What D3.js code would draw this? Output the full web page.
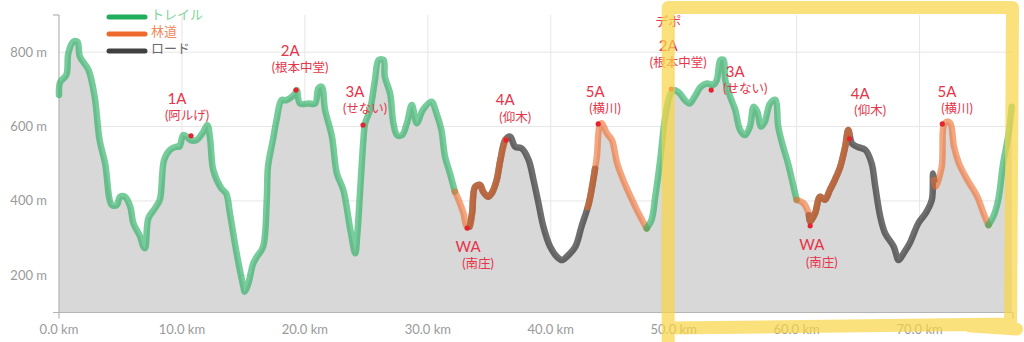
<!DOCTYPE html>
<html><head><meta charset="utf-8">
<script src="https://cdn.jsdelivr.net/npm/d3@7"></script>
<style>
html,body{margin:0;padding:0;background:#fff;}
svg{display:block;}
</style></head>
<body>
<svg id="chart" width="1024" height="342"></svg>
<script>
// ---- data ----
const distKm = [0,0.1,0.6,0.76,1.16,1.5,1.7,2.4,2.9,3.3,3.75,4.3,4.7,4.96,5.37,5.8,6.05,6.6,6.86,7.0,7.27,7.8,8.2,8.55,9.03,9.57,9.8,10.1,10.4,10.66,11.2,11.74,12.07,12.3,12.55,13.2,13.6,13.9,14.45,15.0,15.1,15.4,15.8,16.1,16.6,16.9,17.0,17.4,17.7,18.1,18.5,19.2,19.34,19.6,20.3,20.83,21.1,21.37,21.64,22.2,22.6,23.13,23.7,24.1,24.27,24.76,24.9,25.3,25.7,26.0,26.4,26.5,26.93,27.2,27.5,27.9,28.3,28.7,29.1,29.6,30.3,30.7,31.1,31.4,31.8,32.2,32.5,32.9,33.17,33.4,33.6,33.85,34.25,34.5,34.9,35.2,35.6,35.9,36.3,36.7,37.1,37.65,38.2,38.6,39.0,39.4,39.95,40.5,40.9,41.3,42.0,42.5,43.1,43.5,43.75,43.96,44.15,44.56,44.97,45.4,45.9,46.5,47.0,47.8,48.2,48.5,48.9,49.2,49.45,49.7,50.0,50.5,50.9,51.3,51.7,52.2,52.7,53.2,53.5,53.8,54.05,54.2,54.6,55.0,55.4,55.8,56.2,56.5,56.8,57.1,57.4,57.8,58.1,58.3,58.5,58.9,59.3,59.75,60.0,60.56,60.97,61.1,61.5,61.9,62.3,62.7,63.1,63.55,63.95,64.2,64.5,64.9,65.6,66.1,66.4,66.8,67.2,67.9,68.3,68.7,69.2,69.9,70.5,71.0,71.1,71.3,71.8,71.95,72.2,72.5,72.8,73.2,73.9,74.7,75.2,75.6,76.0,76.4,76.8,77.25,77.5];
const elevM = [685,720,739,797,828,828,788,752,680,564,501,389,389,411,411,384,340,304,277,273,353,380,403,510,537,546,546,577,573,564,564,586,604,564,483,434,420,367,259,169,156,178,232,250,277,403,492,564,618,671,671,689,698,662,662,662,703,707,645,573,474,429,322,259,313,564,609,645,725,779,779,734,689,609,577,577,609,658,609,645,667,636,591,519,474,425,403,367,331,331,367,438,443,425,411,421,456,510,564,573,546,541,510,456,394,331,277,250,241,250,277,331,394,465,519,600,609,582,564,501,456,411,376,326,349,411,510,600,653,685,698,689,671,662,680,707,716,712,725,779,779,725,680,645,591,577,600,653,640,600,612,660,671,671,600,546,501,438,403,394,367,344,367,411,403,429,456,492,546,591,555,546,537,501,438,358,313,277,241,259,286,340,367,403,474,438,492,600,613,609,546,501,456,411,367,335,358,403,501,582,653];

// surface segments (km range + type)
const segStart = [33.4, 61.0, 0, 32.2, 43.0, 47.8, 60.0, 71.2, 75.6];
const segEnd   = [43.6, 71.2, 32.2, 36.3, 47.8, 60.0, 64.3, 75.6, 77.5];
const segType  = ["road","road","trail","forest","forest","trail","forest","forest","trail"];

const legendTypes = ["trail","forest","road"];
const legendLabels = ["トレイル","林道","ロード"];

const xTicks = [0,10,20,30,40,50,60,70];
const yTicks = [200,400,600,800];

// aid stations
const aidKm   = [10.74,19.28,24.73,33.2,36.37,43.86,49.8,53.05,61.1,64.3,71.85];
const aidM    = [575,698,604,327,564,607,701,698,333,567,607];
const aidName = ["1A","2A","3A","WA","4A","5A","2A","3A","WA","4A","5A"];
const aidSub  = ["(阿ルげ)","(根本中堂)","(せない)","(南庄)","(仰木)","(横川)","(根本中堂)","(せない)","(南庄)","(仰木)","(横川)"];
const aidPre  = ["","","","","","","デポ","","","",""];
const labelKm = [9.6,18.8,24.08,33.28,36.29,43.61,49.55,55.0,61.24,65.17,72.23];
const labelM  = [675,805,694,277,671,693,818,748,281,689,693];

const highlightKm = [49.55, 77.4];
const highlightM = [58, 920];

// ---- drawing ----
const svg = d3.select("#chart");
const x = d3.scaleLinear().domain([0, 77.6]).range([59, 1013]);
const y = d3.scaleLinear().domain([100, 900]).range([312.5, 15]);

const colors = {trail:"#22ad5c", forest:"#ee6a2a", road:"#2b2b2b"};
const opac = {trail:0.62, forest:0.6, road:0.68};

// grid
svg.append("g").selectAll("line").data(yTicks).join("line")
  .attr("x1", x(0)).attr("x2", x(77.6))
  .attr("y1", d => y(d)).attr("y2", d => y(d))
  .attr("stroke", "#e6e6e6").attr("stroke-width", 1);
svg.append("g").selectAll("line").data(xTicks.filter(d => d > 0)).join("line")
  .attr("x1", d => x(d)).attr("x2", d => x(d))
  .attr("y1", y(900)).attr("y2", y(100))
  .attr("stroke", "#e6e6e6").attr("stroke-width", 1);

const pts = distKm.map((d, i) => ({km: d, m: elevM[i]}));

// area
const area = d3.area().x(d => x(d.km)).y0(y(100)).y1(d => y(d.m)).curve(d3.curveLinear);
svg.append("path").datum(pts).attr("d", area).attr("fill", "#d8d8d8");

// axes lines
const axisCol = "#b5b5b5";
svg.append("line").attr("x1", x(0)).attr("x2", x(0)).attr("y1", y(900)).attr("y2", y(100))
  .attr("stroke", axisCol).attr("stroke-width", 1.2);
svg.append("line").attr("x1", x(0) - 6).attr("x2", x(77.6)).attr("y1", y(100)).attr("y2", y(100))
  .attr("stroke", axisCol).attr("stroke-width", 1.2);
svg.append("line").attr("x1", x(0) - 6).attr("x2", x(0)).attr("y1", y(900)).attr("y2", y(900))
  .attr("stroke", axisCol).attr("stroke-width", 1.2);
svg.append("line").attr("x1", x(0)).attr("x2", x(0)).attr("y1", y(100)).attr("y2", y(100) + 6)
  .attr("stroke", axisCol).attr("stroke-width", 1.2);
svg.append("line").attr("x1", x(77.6)).attr("x2", x(77.6)).attr("y1", y(100)).attr("y2", y(100) + 6)
  .attr("stroke", axisCol).attr("stroke-width", 1.2);

// tick labels
svg.append("g").selectAll("text").data(yTicks).join("text")
  .attr("x", 47).attr("y", d => y(d)).attr("dy", "0.35em")
  .attr("text-anchor", "end")
  .attr("font-family", "Lato, 'Open Sans', sans-serif").attr("font-size", 13)
  .attr("fill", "#9a9a9a").text(d => d + " m");
svg.append("g").selectAll("text").data(xTicks).join("text")
  .attr("x", d => x(d)).attr("y", 334)
  .attr("text-anchor", "middle")
  .attr("font-family", "Lato, 'Open Sans', sans-serif").attr("font-size", 13)
  .attr("fill", "#9a9a9a").text(d => d.toFixed(1) + " km");

// surface strokes
const line = d3.line().x(d => x(d.km)).y(d => y(d.m)).curve(d3.curveCatmullRom.alpha(0.5));
function interp(k) {
  const i = d3.bisectLeft(distKm, k);
  if (i <= 0) return {km: k, m: elevM[0]};
  if (i >= distKm.length) return {km: k, m: elevM[elevM.length - 1]};
  const k0 = distKm[i - 1], k1 = distKm[i];
  const t = (k - k0) / (k1 - k0);
  return {km: k, m: elevM[i - 1] + t * (elevM[i] - elevM[i - 1])};
}
function segPts(a, b) {
  const inside = pts.filter(p => p.km > a && p.km < b);
  return [interp(a), ...inside, interp(b)];
}
segStart.forEach((s, i) => {
  svg.append("path").datum(segPts(s, segEnd[i])).attr("d", line)
    .attr("fill", "none").attr("stroke", colors[segType[i]])
    .attr("stroke-opacity", opac[segType[i]])
    .attr("stroke-width", 6.5).attr("stroke-linecap", "round").attr("stroke-linejoin", "round");
});

// legend
const lg = svg.append("g");
legendTypes.forEach((t, i) => {
  const ly = 17 + i * 17;
  lg.append("line").attr("x1", 109).attr("x2", 145).attr("y1", ly).attr("y2", ly)
    .attr("stroke", colors[t]).attr("stroke-opacity", t === "road" ? 0.9 : 1)
    .attr("stroke-width", 5).attr("stroke-linecap", "round");
  lg.append("text").attr("x", 151).attr("y", ly - 3).attr("dy", "0.35em")
    .attr("font-family", "Lato, 'Noto Sans CJK JP', sans-serif")
    .attr("font-size", 13)
    .attr("fill", t === "trail" ? "#7fd39c" : t === "forest" ? "#f28a5c" : "#6a6a6a")
    .text(legendLabels[i]);
});

// aid station annotations
const red = "#e63449";
const ag = svg.append("g");
aidKm.forEach((k, i) => {
  ag.append("circle").attr("cx", x(k)).attr("cy", y(aidM[i])).attr("r", 2.6).attr("fill", "#e3232f");
  const lx = x(labelKm[i]), ly = y(labelM[i]);
  if (aidPre[i]) {
    ag.append("text").attr("x", lx).attr("y", ly - 24).attr("dy", "0.35em")
      .attr("text-anchor", "middle").attr("font-family", "Lato, 'Noto Sans CJK JP', sans-serif")
      .attr("font-size", 13).attr("fill", red).text(aidPre[i]);
  }
  ag.append("text").attr("x", lx).attr("y", ly).attr("dy", "0.35em")
    .attr("text-anchor", "middle").attr("font-family", "Lato, sans-serif")
    .attr("font-size", 15).attr("fill", red).text(aidName[i]);
  ag.append("text").attr("x", lx + 10).attr("y", ly + 17).attr("dy", "0.35em")
    .attr("text-anchor", "middle").attr("font-family", "Lato, 'Noto Sans CJK JP', sans-serif")
    .attr("font-size", 12.5).attr("fill", red).text(aidSub[i]);
});

// yellow highlight frame
const fx0 = x(highlightKm[0]), fx1 = x(highlightKm[1]);
const fy0 = y(highlightM[1]), fy1 = y(highlightM[0]);
svg.append("path")
  .attr("d", `M${fx0},${fy1 + 14} L${fx0},${fy0} L${fx1 + 2},${fy0} L${fx1},${fy1 - 4} L${fx0},${fy1} M${fx1 - 40},${fy1 - 2} L${fx1 + 6},${fy1 + 1}`)
  .attr("fill", "none").attr("stroke", "#f8d64a").attr("stroke-opacity", 0.72)
  .attr("stroke-width", 13).attr("stroke-linejoin", "round").attr("stroke-linecap", "round");
</script>
</body></html>
